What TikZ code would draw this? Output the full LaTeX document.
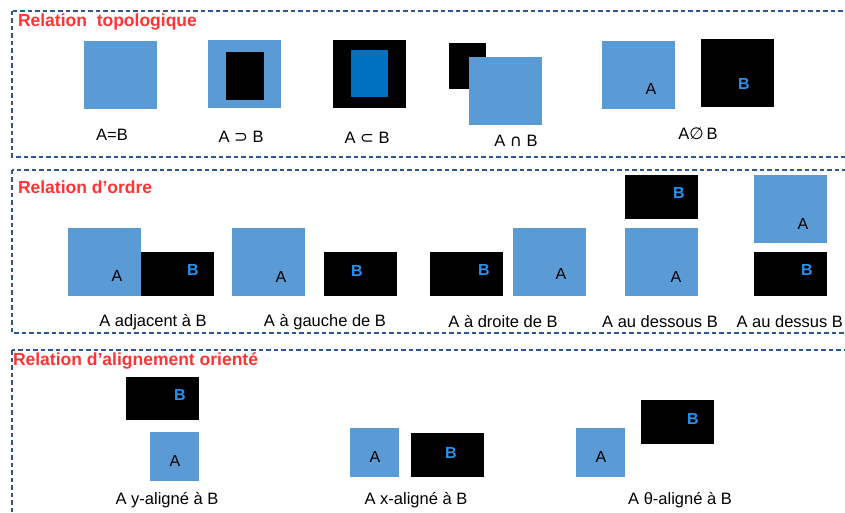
\documentclass[tikz,border=0pt]{standalone}
\usepackage{fontspec}
\setmainfont{Liberation Sans}
\newfontfamily\symfont{DejaVu Sans}
\usepackage{tikz}

\definecolor{boxblue}{RGB}{91,155,213}
\definecolor{deepblue}{RGB}{0,112,192}
\definecolor{letterblue}{RGB}{40,145,240}
\definecolor{titlered}{RGB}{255,51,51}
\definecolor{framecol}{RGB}{47,85,151}

\begin{document}
\begin{tikzpicture}[x=1pt,y=-1pt,
  every node/.style={inner sep=0pt, outer sep=0pt},
  big/.style={minimum width=73pt, minimum height=68pt},
  flat/.style={minimum width=73pt, minimum height=44pt},
  small/.style={minimum width=49pt, minimum height=49pt},
  letA/.style={font=\fontsize{16}{18}\selectfont},
  letB/.style={font=\fontsize{16}{18}\selectfont\bfseries, text=letterblue},
  caption/.style={font=\fontsize{16.5}{19}\selectfont},
  heading/.style={anchor=west, font=\fontsize{17.5}{20}\selectfont\bfseries, text=titlered},
  panel/.style={draw=framecol, line width=1.6pt, dash pattern=on 4.5pt off 3pt}]
\useasboundingbox (0,0) rectangle (845,513);

\draw[panel] (12,11) rectangle (900,157);
\draw[panel] (12,170) rectangle (900,333);
\draw[panel] (12,350) rectangle (900,540);

% relation topologique
\node[heading] (t1) at (18,22) {Relation\ \ topologique};

\node[big, fill=boxblue] (eqA) at (120.5,75) {};
\node[caption] (eq) at (112,135) {A=B};

\node[big, fill=boxblue] (supA) at (244.5,74) {};
\node[fill=black, minimum width=38pt, minimum height=48pt] (supB) at (245,76) {};
\node[caption] (sup) at (241,137) {A {\symfont ⊃} B};

\node[big, fill=black] (subB) at (369.5,74) {};
\node[fill=deepblue, minimum width=37pt, minimum height=47pt] (subA) at (369.5,73.5) {};
\node[caption] (sub) at (367,138) {A {\symfont ⊂} B};

\node[fill=black, minimum width=37pt, minimum height=46pt] (capB) at (467.5,66) {};
\node[big, fill=boxblue] (capA) at (505.5,91.5) {};
\node[caption] (cap) at (516,141) {A {\symfont ∩} B};

\node[big, fill=boxblue] (disA) at (638.5,75) {};
\node[big, fill=black] (disB) at (737,73.5) {};
\node[letA] (disAl) at (651,89) {A};
\node[letB] (disBl) at (744,84) {B};
\node[caption] (dis) at (698,134) {A{\symfont ∅}\,B};

% relation d'ordre
\node[heading] (t2) at (18,187) {Relation d’ordre};

\node[big, fill=boxblue] (adjA) at (104.5,262) {};
\node[flat, fill=black] (adjB) at (177.5,274) {};
\node[letA] (adjAl) at (117,276) {A};
\node[letB] (adjBl) at (193,270) {B};
\node[caption] (adj) at (153,322) {A adjacent à B};

\node[big, fill=boxblue] (gauA) at (268.5,262) {};
\node[flat, fill=black] (gauB) at (360.5,274) {};
\node[letA] (gauAl) at (281,277) {A};
\node[letB] (gauBl) at (357,271) {B};
\node[caption] (gau) at (325,322) {A à gauche de B};

\node[flat, fill=black] (droB) at (466.5,274) {};
\node[big, fill=boxblue] (droA) at (549.5,262) {};
\node[letB] (droBl) at (484,270) {B};
\node[letA] (droAl) at (561,274) {A};
\node[caption] (dro) at (503,322) {A à droite de B};

\node[flat, fill=black] (desB) at (661.5,197) {};
\node[big, fill=boxblue] (desA) at (661.5,262) {};
\node[letB] (desBl) at (679,193) {B};
\node[letA] (desAl) at (676,277) {A};
\node[caption] (des) at (660,322) {A au dessous B};

\node[big, fill=boxblue] (susA) at (790.5,209) {};
\node[flat, fill=black] (susB) at (790.5,274) {};
\node[letA] (susAl) at (803,224) {A};
\node[letB] (susBl) at (807,270) {B};
\node[caption, anchor=east] (sus) at (843,322) {A au dessus B};

% relation d'alignement oriente
\node[heading] (t3) at (13,361) {Relation d’alignement orienté};

\node[flat, fill=black, minimum height=43pt] (yB) at (162.5,398.5) {};
\node[small, fill=boxblue] (yA) at (174.5,456.5) {};
\node[letB] (yBl) at (180,395) {B};
\node[letA] (yAl) at (175,461) {A};
\node[caption] (yal) at (167,500) {A y-aligné à B};

\node[small, fill=boxblue] (xA) at (374.5,452.5) {};
\node[flat, fill=black] (xB) at (447.5,455) {};
\node[letA] (xAl) at (375,457) {A};
\node[letB] (xBl) at (451,453) {B};
\node[caption] (xal) at (416,500) {A x-aligné à B};

\node[small, fill=boxblue] (tA) at (600.5,452.5) {};
\node[flat, fill=black] (tB) at (677.5,422) {};
\node[letA] (tAl) at (601,457) {A};
\node[letB] (tBl) at (693,419) {B};
\node[caption] (tal) at (680,500) {A θ-aligné à B};
\end{tikzpicture}
\end{document}
